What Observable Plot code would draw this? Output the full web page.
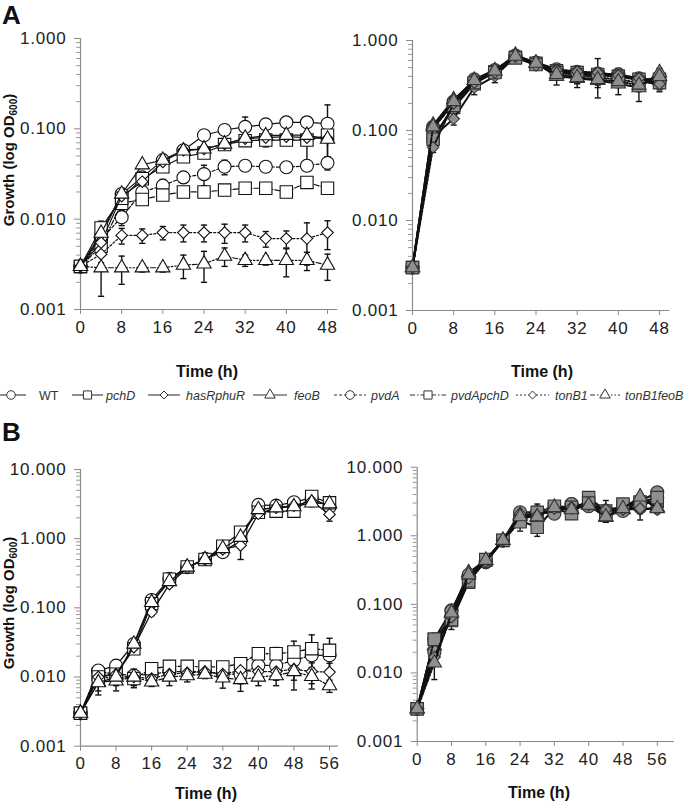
<!DOCTYPE html>
<html><head><meta charset="utf-8">
<script src="https://cdn.jsdelivr.net/npm/d3@7"></script>
<script src="https://cdn.jsdelivr.net/npm/@observablehq/plot@0.6"></script>
<style>
body{margin:0;background:#fff;}
#fig{position:relative;width:700px;height:803px;overflow:hidden;background:#fff;}
.panel{position:absolute;}
.panel svg{overflow:visible;}
.panel svg text{letter-spacing:0.8px;}
#overlay{position:absolute;left:0;top:0;pointer-events:none;}
</style></head>
<body><div id="fig"></div>
<script>
// ---------- categories / styles ----------
const strains = ["WT","pchD","hasRphuR","feoB","pvdA","pvdApchD","tonB1","tonB1feoB"];
const symbols = ["circle","square","diamond2","triangle","circle","square","diamond2","triangle"];
const dashes  = [null,null,null,null,"3,2","5,2,1.5,2","2,2","5,2,1.5,2,1.5,2"];
const timeA = [0,4,8,12,16,20,24,28,32,36,40,44,48];
const timeB = [0,4,8,12,16,20,24,28,32,36,40,44,48,52,56];
const ticksA = [0,8,16,24,32,40,48];
const ticksB = [0,8,16,24,32,40,48,56];
const yMajorA = [0.001,0.01,0.1,1];
const yMajorB = [0.001,0.01,0.1,1,10];

// ---------- Panel A, left (white markers) ----------
const A1_WT        = [0.003,0.0065,0.019,0.029,0.045,0.058,0.085,0.097,0.105,0.112,0.118,0.118,0.114];
const A1_pchD      = [0.003,0.008,0.017,0.028,0.038,0.049,0.054,0.067,0.074,0.075,0.075,0.075,0.085];
const A1_hasRphuR  = [0.003,0.0055,0.018,0.026,0.043,0.058,0.060,0.068,0.078,0.080,0.082,0.080,0.078];
const A1_feoB      = [0.003,0.007,0.019,0.040,0.045,0.057,0.060,0.068,0.079,0.084,0.085,0.085,0.077];
const A1_pvdA      = [0.003,0.006,0.0105,0.020,0.0235,0.029,0.0315,0.038,0.039,0.038,0.0375,0.039,0.042];
const A1_pvdApchD  = [0.003,0.005,0.015,0.0165,0.0185,0.020,0.020,0.021,0.022,0.022,0.020,0.0255,0.022];
const A1_tonB1     = [0.003,0.0041,0.0066,0.0066,0.0071,0.0071,0.0071,0.0071,0.0071,0.0061,0.0061,0.0061,0.0071];
const A1_tonB1feoB = [0.003,0.0029,0.0029,0.0029,0.0029,0.0031,0.0032,0.0039,0.0035,0.0035,0.0035,0.0035,0.0031];
const A1_sd_WT        = [0,0.001,0.002,0.003,0.003,0.004,0.006,0.01,0.03,0.01,0.01,0.01,0.07];
const A1_sd_pchD      = [0,0.0015,0.002,0.003,0.003,0.004,0.006,0.005,0.005,0.012,0.005,0.03,0.01];
const A1_sd_hasRphuR  = [0,0.001,0.002,0.002,0.003,0.004,0.005,0.005,0.005,0.006,0.006,0.006,0.006];
const A1_sd_feoB      = [0,0.001,0.002,0.003,0.003,0.004,0.005,0.005,0.005,0.006,0.006,0.006,0.03];
const A1_sd_pvdA      = [0,0.001,0.002,0.003,0.004,0.004,0.008,0.007,0.004,0.004,0.004,0.004,0.007];
const A1_sd_pvdApchD  = [0,0.001,0.002,0.002,0.002,0.002,0.002,0.002,0.002,0.002,0.002,0.002,0.002];
const A1_sd_tonB1     = [0,0.0008,0.0013,0.0012,0.0012,0.0015,0.0015,0.0017,0.0015,0.0012,0.0013,0.003,0.0025];
const A1_sd_tonB1feoB = [0,0.0015,0.001,0.0003,0.0003,0.0009,0.0012,0.0009,0.0005,0.0004,0.0012,0.0008,0.001];

// ---------- Panel A, right (grey markers) ----------
const A2_WT        = [0.003,0.11,0.21,0.37,0.47,0.68,0.57,0.48,0.45,0.43,0.42,0.38,0.36];
const A2_pchD      = [0.003,0.085,0.18,0.33,0.45,0.65,0.56,0.46,0.44,0.42,0.40,0.37,0.37];
const A2_hasRphuR  = [0.003,0.085,0.135,0.30,0.40,0.66,0.53,0.47,0.42,0.41,0.40,0.38,0.31];
const A2_feoB      = [0.003,0.115,0.22,0.36,0.46,0.69,0.56,0.40,0.38,0.36,0.33,0.30,0.44];
const A2_pvdA      = [0.003,0.105,0.20,0.35,0.45,0.66,0.55,0.45,0.43,0.42,0.40,0.36,0.35];
const A2_pvdApchD  = [0.003,0.08,0.19,0.34,0.44,0.64,0.54,0.44,0.41,0.39,0.37,0.34,0.34];
const A2_tonB1     = [0.003,0.065,0.20,0.34,0.44,0.66,0.53,0.47,0.45,0.44,0.41,0.38,0.33];
const A2_tonB1feoB = [0.003,0.11,0.21,0.36,0.46,0.67,0.56,0.42,0.39,0.37,0.35,0.32,0.40];
const A2_sd_WT        = [0,0.01,0.02,0.03,0.04,0.05,0.06,0.05,0.05,0.2,0.05,0.05,0.04];
const A2_sd_pchD      = [0,0.01,0.02,0.03,0.04,0.05,0.05,0.05,0.05,0.05,0.05,0.05,0.04];
const A2_sd_hasRphuR  = [0,0.015,0.02,0.05,0.06,0.05,0.05,0.05,0.05,0.05,0.05,0.05,0.04];
const A2_sd_feoB      = [0,0.01,0.02,0.03,0.04,0.05,0.05,0.08,0.08,0.06,0.08,0.09,0.05];
const A2_sd_pvdA      = [0,0.01,0.02,0.03,0.05,0.05,0.05,0.05,0.05,0.05,0.09,0.05,0.04];
const A2_sd_pvdApchD  = [0,0.01,0.02,0.03,0.04,0.05,0.05,0.05,0.08,0.05,0.05,0.05,0.04];
const A2_sd_tonB1     = [0,0.008,0.02,0.03,0.04,0.05,0.05,0.05,0.05,0.05,0.05,0.05,0.04];
const A2_sd_tonB1feoB = [0,0.01,0.02,0.03,0.04,0.05,0.05,0.05,0.05,0.05,0.05,0.05,0.04];

// ---------- Panel B, left (white markers) ----------
const B1_WT        = [0.003,0.0124,0.0146,0.030,0.13,0.263,0.386,0.51,0.64,0.94,3.08,3.0,3.37,3.89,2.86];
const B1_pchD      = [0.003,0.010,0.011,0.0256,0.115,0.26,0.39,0.50,0.78,1.24,2.41,2.5,2.5,4.07,3.3];
const B1_hasRphuR  = [0.003,0.010,0.011,0.027,0.087,0.22,0.38,0.50,0.70,0.80,2.29,2.8,3.0,3.5,2.24];
const B1_feoB      = [0.003,0.0083,0.010,0.030,0.12,0.24,0.39,0.50,0.72,1.05,2.64,2.8,2.9,3.3,3.2];
const B1_pvdA      = [0.003,0.012,0.011,0.0105,0.011,0.012,0.012,0.012,0.011,0.011,0.0147,0.0147,0.0174,0.0206,0.0206];
const B1_pvdApchD  = [0.003,0.011,0.011,0.0095,0.0132,0.0143,0.0143,0.014,0.014,0.0156,0.0217,0.0217,0.023,0.0257,0.0243];
const B1_tonB1     = [0.003,0.010,0.0095,0.010,0.0095,0.011,0.0115,0.012,0.011,0.0125,0.012,0.012,0.013,0.012,0.0118];
const B1_tonB1feoB = [0.003,0.0085,0.0088,0.010,0.0085,0.010,0.0105,0.011,0.0097,0.0092,0.010,0.0105,0.012,0.0102,0.0075];
const B1_sd_WT        = [0,0.001,0.002,0.003,0.01,0.02,0.03,0.04,0.05,0.08,0.2,0.2,0.3,0.9,0.4];
const B1_sd_pchD      = [0,0.001,0.002,0.003,0.01,0.02,0.03,0.04,0.05,0.1,0.2,0.2,0.3,0.5,0.4];
const B1_sd_hasRphuR  = [0,0.001,0.002,0.003,0.01,0.02,0.03,0.04,0.05,0.3,0.2,0.2,0.3,0.4,0.45];
const B1_sd_feoB      = [0,0.002,0.002,0.003,0.01,0.02,0.03,0.04,0.05,0.1,0.2,0.2,0.3,0.4,0.4];
const B1_sd_pvdA      = [0,0.002,0.002,0.002,0.002,0.002,0.002,0.002,0.002,0.003,0.004,0.004,0.006,0.008,0.008];
const B1_sd_pvdApchD  = [0,0.002,0.002,0.002,0.002,0.002,0.002,0.002,0.002,0.003,0.003,0.005,0.01,0.015,0.012];
const B1_sd_tonB1     = [0,0.002,0.002,0.002,0.002,0.002,0.002,0.002,0.002,0.003,0.003,0.003,0.004,0.004,0.004];
const B1_sd_tonB1feoB = [0,0.003,0.0025,0.003,0.0012,0.0025,0.002,0.0015,0.0028,0.003,0.0025,0.003,0.0055,0.0035,0.0015];

// ---------- Panel B, right (grey markers) ----------
const B2_WT        = [0.003,0.031,0.082,0.25,0.41,0.85,2.2,2.2,2.3,2.9,2.75,2.2,2.5,2.6,3.6];
const B2_pchD      = [0.003,0.031,0.058,0.21,0.44,0.85,1.67,1.33,2.5,2.1,3.6,2.3,2.7,3.0,3.2];
const B2_hasRphuR  = [0.003,0.017,0.070,0.22,0.43,0.84,2.0,2.1,2.4,2.5,2.9,2.47,2.5,2.4,2.6];
const B2_feoB      = [0.003,0.025,0.075,0.29,0.44,0.86,2.0,1.87,2.6,2.5,2.8,1.87,2.4,3.6,2.6];
const B2_pvdA      = [0.003,0.020,0.080,0.27,0.42,0.85,1.7,2.2,2.1,2.9,2.7,2.3,2.3,3.2,4.3];
const B2_pvdApchD  = [0.003,0.031,0.060,0.22,0.45,0.86,1.6,2.2,2.7,2.6,3.0,2.0,2.9,3.1,3.6];
const B2_tonB1     = [0.003,0.017,0.065,0.24,0.42,0.85,2.1,2.0,2.5,2.6,2.8,2.4,2.4,2.5,2.4];
const B2_tonB1feoB = [0.003,0.014,0.075,0.27,0.44,0.86,1.9,1.9,2.6,2.4,2.8,1.9,2.5,3.7,2.5];
const B2_sd_WT        = [0,0.005,0.01,0.03,0.04,0.06,0.3,0.7,0.2,0.2,0.2,0.3,0.2,0.3,0.3];
const B2_sd_pchD      = [0,0.005,0.015,0.03,0.04,0.06,0.5,0.35,0.2,0.2,0.2,0.3,0.2,0.3,0.3];
const B2_sd_hasRphuR  = [0,0.003,0.01,0.03,0.04,0.06,0.2,0.2,0.2,0.2,0.2,0.8,0.2,0.3,0.3];
const B2_sd_feoB      = [0,0.005,0.01,0.03,0.04,0.06,0.2,0.2,0.2,0.2,0.2,0.3,0.2,0.3,0.3];
const B2_sd_pvdA      = [0,0.004,0.01,0.03,0.04,0.06,0.2,0.2,0.2,0.2,0.2,0.3,0.2,0.3,0.3];
const B2_sd_pvdApchD  = [0,0.005,0.01,0.03,0.04,0.06,0.2,0.2,0.2,0.2,0.2,0.3,0.2,0.3,0.3];
const B2_sd_tonB1     = [0,0.004,0.01,0.03,0.04,0.06,0.2,0.2,0.2,0.2,0.2,0.3,0.2,0.8,0.3];
const B2_sd_tonB1feoB = [0,0.006,0.01,0.03,0.04,0.06,0.2,0.2,0.2,0.2,0.2,0.3,0.2,0.3,0.3];

// ---------- drawing ----------
const FONT = "'Liberation Sans', Arial, sans-serif";
const symR = {circle: 6.5, square: 7, diamond2: 5.2, triangle: 5.3};

function minorTicks(major) {
  const out = [];
  for (let k = 0; k < major.length - 1; k++) for (let m = 2; m <= 9; m++) out.push(+(major[k] * m).toPrecision(3));
  return out;
}

function makePanel(cfg) {
  const rows = [];
  strains.forEach((s, i) => {
    cfg.values[i].forEach((v, j) => {
      const sd = cfg.sds[i][j];
      rows.push({s, i, t: cfg.time[j], v, sd, lo: Math.max(v - sd, v * 0.25), hi: v + sd});
    });
  });
  const eb = rows.filter(d => d.sd > 0);
  const c = cfg.cap;
  const marks = [
    Plot.ruleX([0], {stroke: "#8a8a8a", strokeWidth: 1.2}),
    Plot.ruleY([cfg.yDomain[0]], {stroke: "#8a8a8a", strokeWidth: 1.2}),
    Plot.axisY({ticks: minorTicks(cfg.yMajor), tickSize: 4, tickFormat: () => "", stroke: "#9a9a9a", label: null}),
    Plot.axisY({ticks: cfg.yMajor, tickSize: 6, tickFormat: () => "", stroke: "#8a8a8a", label: null}),
    Plot.axisY({ticks: cfg.yMajor, tickSize: 0, tickPadding: 14, tickFormat: d => d.toFixed(3), fill: "#222", label: null}),
    Plot.axisX({ticks: cfg.xTicks, tickSize: 5, tickFormat: () => "", stroke: "#8a8a8a", label: null}),
    Plot.axisX({ticks: cfg.xTicks, tickSize: 0, tickPadding: 11, fill: "#222", label: null}),
    Plot.ruleX(eb, {x: "t", y1: "lo", y2: "hi", stroke: "#111", strokeWidth: 1.4}),
    Plot.link(eb, {x1: d => d.t - c, x2: d => d.t + c, y1: "hi", y2: "hi", stroke: "#111", strokeWidth: 1.4}),
    Plot.link(eb, {x1: d => d.t - c, x2: d => d.t + c, y1: "lo", y2: "lo", stroke: "#111", strokeWidth: 1.4})
  ];
  const order = cfg.order || [4,5,6,7,0,1,2,3];
  order.forEach(i => {
    const data = rows.filter(d => d.i === i);
    marks.push(Plot.line(data, {x: "t", y: "v", stroke: "#111", strokeWidth: cfg.lw, strokeDasharray: dashes[i] || undefined}));
    marks.push(Plot.dot(data, {x: "t", y: "v", symbol: symbols[i], r: symR[symbols[i]], fill: cfg.fill, stroke: cfg.dotStroke, strokeWidth: 1.1}));
  });
  const svg = Plot.plot({
    width: 350, height: cfg.height,
    marginLeft: cfg.ml, marginRight: cfg.mr, marginTop: cfg.mt, marginBottom: cfg.mb,
    x: {domain: cfg.xDomain, label: null},
    y: {type: "log", domain: cfg.yDomain, label: null},
    style: {fontFamily: FONT, fontSize: "17px", color: "#222", background: "transparent", overflow: "visible"},
    marks
  });
  const div = document.createElement("div");
  div.className = "panel";
  div.style.left = cfg.left + "px";
  div.style.top = cfg.top + "px";
  div.appendChild(svg);
  document.getElementById("fig").appendChild(div);
}

makePanel({left: 0, top: 0, height: 345, ml: 80, mr: 12.7, mt: 38, mb: 36,
  xDomain: [0, 50], yDomain: [0.001, 1], yMajor: yMajorA, xTicks: ticksA, time: timeA, cap: 0.6,
  values: [A1_WT, A1_pchD, A1_hasRphuR, A1_feoB, A1_pvdA, A1_pvdApchD, A1_tonB1, A1_tonB1feoB],
  sds: [A1_sd_WT, A1_sd_pchD, A1_sd_hasRphuR, A1_sd_feoB, A1_sd_pvdA, A1_sd_pvdApchD, A1_sd_tonB1, A1_sd_tonB1feoB],
  fill: "#fff", dotStroke: "#111", lw: 1.2});

makePanel({left: 350, top: 0, height: 345, ml: 62, mr: 30.7, mt: 40, mb: 35,
  xDomain: [0, 50], yDomain: [0.001, 1], yMajor: yMajorA, xTicks: ticksA, time: timeA, cap: 0.6,
  values: [A2_WT, A2_pchD, A2_hasRphuR, A2_feoB, A2_pvdA, A2_pvdApchD, A2_tonB1, A2_tonB1feoB],
  sds: [A2_sd_WT, A2_sd_pchD, A2_sd_hasRphuR, A2_sd_feoB, A2_sd_pvdA, A2_sd_pvdApchD, A2_sd_tonB1, A2_sd_tonB1feoB],
  fill: "#8f8f8f", dotStroke: "#333", lw: 2, order: [0,1,2,3,4,5,6,7]});

makePanel({left: 0, top: 400, height: 403, ml: 80, mr: 12.1, mt: 69, mb: 57.3,
  xDomain: [0, 58], yDomain: [0.001, 10], yMajor: yMajorB, xTicks: ticksB, time: timeB, cap: 0.7,
  values: [B1_WT, B1_pchD, B1_hasRphuR, B1_feoB, B1_pvdA, B1_pvdApchD, B1_tonB1, B1_tonB1feoB],
  sds: [B1_sd_WT, B1_sd_pchD, B1_sd_hasRphuR, B1_sd_feoB, B1_sd_pvdA, B1_sd_pvdApchD, B1_sd_tonB1, B1_sd_tonB1feoB],
  fill: "#fff", dotStroke: "#111", lw: 1.3});

makePanel({left: 350, top: 400, height: 403, ml: 66.7, mr: 26.1, mt: 66.7, mb: 62,
  xDomain: [0, 60], yDomain: [0.001, 10], yMajor: yMajorB, xTicks: ticksB, time: timeB, cap: 0.7,
  values: [B2_WT, B2_pchD, B2_hasRphuR, B2_feoB, B2_pvdA, B2_pvdApchD, B2_tonB1, B2_tonB1feoB],
  sds: [B2_sd_WT, B2_sd_pchD, B2_sd_hasRphuR, B2_sd_feoB, B2_sd_pvdA, B2_sd_pvdApchD, B2_sd_tonB1, B2_sd_tonB1feoB],
  fill: "#8f8f8f", dotStroke: "#333", lw: 2, order: [0,1,2,3,4,5,6,7]});

// ---------- overlay: panel letters, axis titles, legend ----------
const ov = d3.select("#fig").append("svg").attr("id", "overlay")
  .attr("width", 700).attr("height", 803).style("font-family", FONT);

ov.append("text").attr("x", 2).attr("y", 24).attr("font-size", 26).attr("font-weight", "bold").attr("fill", "#111").text("A");
ov.append("text").attr("x", 2).attr("y", 441).attr("font-size", 26).attr("font-weight", "bold").attr("fill", "#111").text("B");

[[207, 377], [542, 377], [206, 799], [539, 798]].forEach(([x, y]) => {
  ov.append("text").attr("x", x).attr("y", y).attr("text-anchor", "middle")
    .attr("font-size", 16).attr("font-weight", "bold").attr("fill", "#111").text("Time (h)");
});

[160, 603].forEach(cy => {
  const t = ov.append("text").attr("transform", `translate(14,${cy}) rotate(-90)`)
    .attr("text-anchor", "middle").attr("font-size", 15).attr("font-weight", "bold").attr("fill", "#111");
  t.append("tspan").text("Growth (log OD");
  t.append("tspan").attr("font-size", 10).attr("dy", 3).text("600");
  t.append("tspan").attr("dy", -3).text(")");
});

const legendX = [[-4, 26, 39], [72, 103, 106], [148, 180, 186], [253, 287, 294], [334, 366, 371], [410, 446, 451], [516, 549, 555], [590, 620, 625]];
const legR = {circle: 4.3, square: 4.6, diamond2: 3.6, triangle: 3.9};
const LY = 395;
strains.forEach((s, i) => {
  const [x1, x2, tx] = legendX[i];
  ov.append("line").attr("x1", x1).attr("x2", x2).attr("y1", LY).attr("y2", LY)
    .attr("stroke", "#333").attr("stroke-width", 1.1).attr("stroke-dasharray", dashes[i] || null);
  const symMap = {circle: d3.symbolCircle, square: d3.symbolSquare, diamond2: d3.symbolDiamond2, triangle: d3.symbolTriangle};
  const r = legR[symbols[i]];
  ov.append("path").attr("d", d3.symbol(symMap[symbols[i]], Math.PI * r * r)())
    .attr("transform", `translate(${(x1 + x2) / 2},${LY})`)
    .attr("fill", "#fff").attr("stroke", "#333").attr("stroke-width", 1);
  ov.append("text").attr("x", tx).attr("y", LY + 5).attr("font-size", 12.5)
    .attr("font-style", i === 0 ? "normal" : "italic").attr("fill", "#333").text(s);
});
</script></body></html>
